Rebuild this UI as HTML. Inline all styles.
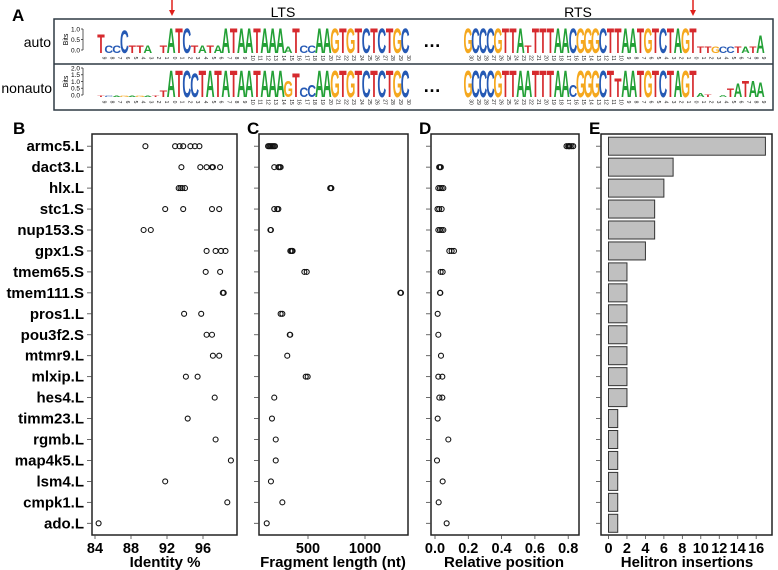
<!DOCTYPE html>
<html><head><meta charset="utf-8"><style>
html,body{margin:0;padding:0;background:#fff;}
svg{display:block;font-family:"Liberation Sans",Arial,sans-serif;}
</style></head><body>
<svg id="fig" width="778" height="570" viewBox="0 0 778 570"></svg>
<script>
const genes=["armc5.L","dact3.L","hlx.L","stc1.S","nup153.S","gpx1.S","tmem65.S","tmem111.S","pros1.L","pou3f2.S","mtmr9.L","mlxip.L","hes4.L","timm23.L","rgmb.L","map4k5.L","lsm4.L","cmpk1.L","ado.L"];
const identity=[[89.6,92.9,93.4,93.8,94.6,95.1,95.6],[93.6,95.7,96.4,97.0,97.1,97.9],[93.3,93.5,93.7,94.0],[91.8,93.8,97.0,97.8],[89.4,90.2],[96.4,97.4,98.0,98.5],[96.3,97.9],[98.2,98.3],[93.9,95.8],[96.4,97.0],[97.1,97.8],[94.1,95.4],[97.3],[94.3],[97.4],[99.1],[91.8],[98.7],[84.4]];
const fragLen=[[150,160,170,180,190,200,210],[204,240,250,260],[695,700,705],[204,230,240],[170,175],[345,355,360,365],[468,489],[1310,1316],[260,275],[340,344],[318],[480,497],[204],[184],[217],[217],[175],[275],[138]];
const relPos=[[0.79,0.8,0.805,0.81,0.82,0.83],[0.025,0.03,0.035],[0.02,0.03,0.04,0.05],[0.015,0.025,0.04],[0.02,0.03,0.04,0.05],[0.086,0.1,0.114],[0.034,0.046],[0.03,0.032],[0.016],[0.02],[0.036],[0.02,0.044],[0.026,0.044],[0.016],[0.08],[0.012],[0.046],[0.022],[0.07]];
const insertions=[17,7,6,5,5,4,2,2,2,2,2,2,2,1,1,1,1,1,1];
const ticksB=[84,88,92,96];
const ticksC=[500,1000];
const ticksD=[0,0.2,0.4,0.6,0.8];
const ticksE=[0,2,4,6,8,10,12,14,16];
const autoL="TCCCTTA-TATCTATAATAATAAAATCCAAGTGTCTCTGC";
const autoLh=[0.75,0.3,0.3,0.9,0.3,0.3,0.3,0,0.3,1,1,1,0.3,0.3,0.3,0.3,1,1,1,1,1,1,1,1,0.25,1,0.3,0.3,1,1,1,1,1,1,1,1,1,1,1,1];
const nonL="TCAGAGATTATCCTATATAATAAAGTCCAAGTGTCTCTGC";
const nonLh=[0.05,0.05,0.05,0.05,0.05,0.05,0.05,0.05,0.25,1,1,1,0.9,1,1,1,1,1,1,1,1,1,1,1,0.6,0.9,0.35,0.45,1,1,1,1,1,1,1,1,1,1,1,1];
const autoR="GCCCGTTATTTTAACGGGCTTAATGTCTAGTTTGCCTATA";
const autoRh=[1,1,1,1,1,1,1,1,0.3,1,1,1,1,1,1,1,1,1,1,1,1,1,1,1,1,1,1,1,1,1,1,0.25,0.25,0.25,0.25,0.25,0.25,0.25,0.25,0.7];
const nonR="GCCCGTTAATTTAACGGGCTTAATGTCTAGTAT-ATATAA";
const nonRh=[1,1,1,1,1,1,1,1,1,1,1,1,1,1,0.45,1,1,1,1,1,0.7,1,1,1,1,1,1,1,1,1,1,0.15,0.1,0,0.08,0.3,0.5,0.6,0.6,0.55];

const NS="http://www.w3.org/2000/svg";
const svg=document.getElementById('fig');
function el(tag,attrs,parent){const e=document.createElementNS(NS,tag);for(const k in attrs)e.setAttribute(k,attrs[k]);(parent||svg).appendChild(e);return e;}
function txt(s,attrs,parent){const e=el('text',attrs,parent);e.textContent=s;return e;}

const gA=el('g',{});


txt('A',{x:12,y:21,'font-size':17,'font-weight':'bold'},gA);
txt('LTS',{x:283,y:17,'font-size':14,'text-anchor':'middle'},gA);
txt('RTS',{x:578,y:17,'font-size':14,'text-anchor':'middle'},gA);
[172,693].forEach(x=>{
  const a=el('g',{},gA);
  
  
  el('line',{x1:x,y1:0,x2:x,y2:11,stroke:'#e0201b','stroke-width':1.5},a);
  el('path',{d:`M${x-3},10 L${x+3},10 L${x},16 Z`,fill:'#e0201b'},a);
});
el('rect',{x:54,y:19,width:719,height:91,fill:'#fff',stroke:'#2f3a44','stroke-width':1.5},gA);
el('line',{x1:54,y1:64,x2:773,y2:64,stroke:'#2f3a44','stroke-width':1.5},gA);
txt('auto',{x:51,y:47,'font-size':14,'text-anchor':'end'},gA);
txt('nonauto',{x:52,y:93,'font-size':14,'text-anchor':'end'},gA);
const colors={A:'#23a036',C:'#2559b4',G:'#f5a81e',T:'#d62a2e'};
function bitsAxis(base,tp,labels){
  txt('Bits',{x:0,y:0,'font-size':7,transform:`translate(68,${(base+tp)/2}) rotate(-90)`,'text-anchor':'middle'},gA);
  el('line',{x1:83,y1:tp,x2:83,y2:base,stroke:'#333','stroke-width':0.8},gA);
  labels.forEach((l,i)=>{const y=base-(base-tp)*i/(labels.length-1);
    el('line',{x1:81,y1:y,x2:83,y2:y,stroke:'#333','stroke-width':0.8},gA);
    txt(l,{x:80,y:y+2.3,'font-size':6.5,'text-anchor':'end'},gA);});
}
bitsAxis(50,29,['0.0','0.5','1.0']);
bitsAxis(95,68,['0.0','0.5','1.0','1.5','2.0']);
function logo(seq,hs,x0,step,base,full,nums,sx){
  const g=el('g',{},gA);
  
  
  for(let i=0;i<seq.length;i++){
    const ch=seq[i];const h=hs[i]*full;const x=x0+i*step;
    if(ch!=='-'&&h>0.3){
      txt(ch,{'font-size':10,'font-weight':'bold','text-anchor':'middle',fill:colors[ch],transform:`translate(${x},${base}) scale(${sx},${h/7.3})`},g);
    }
    txt(String(nums[i]),{'font-size':5,'text-anchor':'middle',fill:'#222',transform:`translate(${x+1.6},${base+5}) rotate(90)`},g);
  }
}
const numsL=[9,8,7,6,5,4,3,2,1,0];for(let i=1;i<=30;i++)numsL.push(i);
const numsR=[];for(let i=30;i>=0;i--)numsR.push(i);for(let i=1;i<=9;i++)numsR.push(i);
logo(autoL,autoLh,101,7.8,53,26,numsL,1.22);
logo(nonL,nonLh,101,7.8,97,28,numsL,1.22);
logo(autoR,autoRh,468,7.5,53,26,numsR,1.17);
logo(nonR,nonRh,468,7.5,97,28,numsR,1.17);
txt('\u2026',{x:432,y:47,'font-size':18,'font-weight':'bold','text-anchor':'middle'},gA);
txt('\u2026',{x:432,y:92,'font-size':18,'font-weight':'bold','text-anchor':'middle'},gA);

const yTop=134,yBot=535;
const rowY=i=>146.2+i*20.95;
function frame(x0,x1,letter,lx,name){
  const g=el('g',{});
  
  
  txt(letter,{x:lx,y:134,'font-size':17,'font-weight':'bold'},g);
  el('rect',{x:x0,y:yTop,width:x1-x0,height:yBot-yTop,fill:'#fff',stroke:'#222','stroke-width':1.5},g);
  genes.forEach((n,i)=>el('line',{x1:x0-5,y1:rowY(i),x2:x0,y2:rowY(i),stroke:'#444','stroke-width':0.8},g));
  return g;
}
function xAxis(g,ticks,sc,fmt,title,titleX){
  ticks.forEach(t=>{const x=sc(t);
    el('line',{x1:x,y1:yBot,x2:x,y2:yBot+4,stroke:'#444','stroke-width':0.8},g);
    const l=txt(fmt(t),{x:x,y:553,'font-size':14.5,'font-weight':'bold','text-anchor':'middle'},g);
    
    
  });
  const tt=txt(title,{x:titleX,y:567,'font-size':15,'font-weight':'bold','text-anchor':'middle'},g);
  
  
}
genes.forEach((n,i)=>{
  const t=txt(n,{x:84,y:rowY(i)+5,'font-size':15,'font-weight':'bold','text-anchor':'end'});
  
  
});
function dots(g,data,sc){
  data.forEach((arr,i)=>arr.forEach(v=>{
    const c=el('circle',{cx:sc(v),cy:rowY(i),r:2.5,fill:'none',stroke:'#111','stroke-width':1.1},g);
    
    
  }));
}
const sB=v=>95+(v-84)*9.0;
const gB=frame(92,237,'B',13,'panel-b-identity');
dots(gB,identity,sB);
xAxis(gB,ticksB,sB,t=>String(t),'Identity %',165);
const sC=v=>308+(v-500)*0.114;
const gC=frame(259,408,'C',247,'panel-c-fragment-length');
dots(gC,fragLen,sC);
xAxis(gC,ticksC,sC,t=>String(t),'Fragment length (nt)',333);
const sD=v=>435+v*166.5;
const gD=frame(431,579,'D',419,'panel-d-relative-position');
dots(gD,relPos,sD);
xAxis(gD,ticksD,sD,t=>t.toFixed(1),'Relative position',504);
const sE=v=>608.5+v*9.23;
const gE=frame(601,772,'E',589,'panel-e-helitron-insertions');
insertions.forEach((v,i)=>{
  const b=el('rect',{x:sE(0),y:rowY(i)-9,width:sE(v)-sE(0),height:18,fill:'#c0c0c0',stroke:'#333','stroke-width':1},gE);
  
  
});
xAxis(gE,ticksE,sE,t=>String(t),'Helitron insertions',687);
</script>
</body></html>
